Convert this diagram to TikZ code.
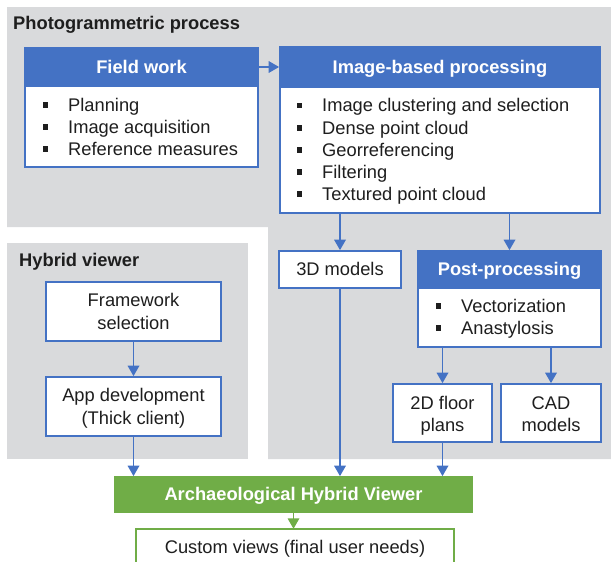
\documentclass[tikz,border=0pt]{standalone}
\usepackage{fontspec}
\setmainfont{Liberation Sans}
\usetikzlibrary{arrows.meta}
\definecolor{cblue}{HTML}{4472C4}
\definecolor{cgreen}{HTML}{70AD47}
\definecolor{cgrey}{HTML}{D9DADC}
\definecolor{ctext}{HTML}{1E1E1E}
\newcommand\fsz{\fontsize{18.3}{22}\selectfont}
\newcommand\itm[1]{\llap{\rule[3.5pt]{5.5pt}{5.5pt}\hspace{20pt}}#1}
\begin{document}
\begin{tikzpicture}[x=1pt,y=-1pt,
  panel/.style={fill=cgrey,draw=none},
  bbox/.style={draw=cblue,fill=white,line width=1.7pt,inner sep=0,anchor=center},
  hbox/.style={draw=cblue,fill=cblue,line width=1.7pt,inner sep=0,anchor=center},
  gbox/.style={draw=cgreen,fill=cgreen,line width=1.7pt,inner sep=0,anchor=center},
  txt/.style={inner sep=0,anchor=base,font=\fsz,text=ctext},
  htxt/.style={inner sep=0,anchor=base,font=\fsz\bfseries,text=white},
  ttl/.style={inner sep=0,anchor=base west,font=\fsz\bfseries,text=ctext},
  itm/.style={inner sep=0,anchor=base west,font=\fsz,text=ctext},
  arr/.style={draw=cblue,line width=1.8pt,-{Triangle[width=11.5pt,length=10.5pt]}},
  garr/.style={draw=cgreen,line width=1.8pt,-{Triangle[width=11.5pt,length=10.5pt]}}]
\useasboundingbox (0,0) rectangle (611,562);
% panels
\fill[panel] (7,7) -- (611,7) -- (611,459) -- (268,459) -- (268,227) -- (7,227) -- cycle;
\fill[panel] (7,243) rectangle (248,459);
\node[ttl] (tphoto) at (13,30) {Photogrammetric process};
\node[ttl] (thyb) at (19,266) {Hybrid viewer};
% field work
\node[bbox,minimum width=233pt,minimum height=81pt] (fwb) at (141.5,126.5) {};
\node[hbox,minimum width=233pt,minimum height=38pt] (fwh) at (141.5,67) {};
\node[htxt] (fwt) at (141.5,73) {Field work};
\node[itm] (fw1) at (68,111) {\itm{Planning}};
\node[itm] (fw2) at (68,133.3) {\itm{Image acquisition}};
\node[itm] (fw3) at (68,155.3) {\itm{Reference measures}};
% image-based processing
\node[bbox,minimum width=320pt,minimum height=126pt] (ibb) at (440,150) {};
\node[hbox,minimum width=320pt,minimum height=40pt] (ibh) at (440,67) {};
\node[htxt] (ibt) at (440,73.3) {Image-based processing};
\node[itm] (ib1) at (322,111.7) {\itm{Image clustering and selection}};
\node[itm] (ib2) at (322,134) {\itm{Dense point cloud}};
\node[itm] (ib3) at (322,156) {\itm{Georreferencing}};
\node[itm] (ib4) at (322,178) {\itm{Filtering}};
\node[itm] (ib5) at (322,200) {\itm{Textured point cloud}};
% 3D models
\node[bbox,minimum width=122pt,minimum height=37pt] (m3d) at (340,269.5) {};
\node[txt] (m3dt) at (340,275) {3D models};
% post-processing
\node[bbox,minimum width=183pt,minimum height=59pt] (ppb) at (509.5,317.5) {};
\node[hbox,minimum width=183pt,minimum height=37pt] (pph) at (509.5,269.5) {};
\node[htxt] (ppt) at (509.5,275) {Post-processing};
\node[itm] (pp1) at (461,312.3) {\itm{Vectorization}};
\node[itm] (pp2) at (461,334.3) {\itm{Anastylosis}};
% 2D floor plans and CAD
\node[bbox,minimum width=99pt,minimum height=58pt] (fp) at (442.5,413) {};
\node[txt] (fpt1) at (442.5,409) {2D floor};
\node[txt] (fpt2) at (442.5,431.7) {plans};
\node[bbox,minimum width=100pt,minimum height=58pt] (cad) at (551,413) {};
\node[txt] (cadt1) at (551,409) {CAD};
\node[txt] (cadt2) at (551,431.7) {models};
% hybrid viewer boxes
\node[bbox,minimum width=175pt,minimum height=59pt] (fs) at (133.5,311.5) {};
\node[txt] (fst1) at (133.5,306.7) {Framework};
\node[txt] (fst2) at (133.5,329) {selection};
\node[bbox,minimum width=175pt,minimum height=59pt] (app) at (133.5,406.5) {};
\node[txt] (appt1) at (133.5,401.7) {App development};
\node[txt] (appt2) at (133.5,424) {(Thick client)};
% archaeological hybrid viewer
\node[gbox,minimum width=357pt,minimum height=35pt] (ahv) at (293.5,494.5) {};
\node[htxt] (ahvt) at (293.5,500.7) {Archaeological Hybrid Viewer};
% custom views
\node[inner sep=0,minimum width=318pt,minimum height=40pt] (cv) at (295,549) {};
\draw[draw=cgreen,line width=1.7pt] (cv.south west) -- (cv.north west) -- (cv.north east) -- (cv.south east);
\node[txt] (cvt) at (295,553) {Custom views (final user needs)};
% connectors
\draw[arr] (fwh.east) -- (ibh.west);
\draw[arr] (ibb.south -| m3d.north) -- (m3d.north);
\draw[arr] (ibb.south -| pph.north) -- (pph.north);
\draw[arr] (ppb.south -| fp.north) -- (fp.north);
\draw[arr] (ppb.south -| cad.north) -- (cad.north);
\draw[arr] (fs.south) -- (app.north);
\draw[arr] (app.south) -- (app.south |- ahv.north);
\draw[arr] (m3d.south) -- (m3d.south |- ahv.north);
\draw[arr] (fp.south) -- (fp.south |- ahv.north);
\draw[garr] (ahv.south) -- (ahv.south |- cv.north);
\end{tikzpicture}
\end{document}
